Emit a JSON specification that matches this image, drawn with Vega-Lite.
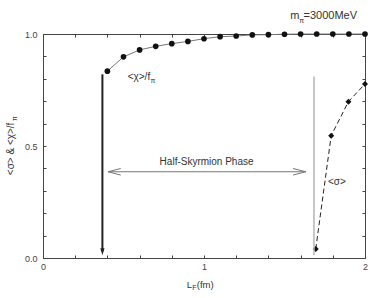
{
  "$schema": "https://vega.github.io/schema/vega-lite/v6.json",
  "width": 322,
  "height": 224,
  "autosize": {"type": "none"},
  "padding": {"left": 43, "top": 34, "right": 17, "bottom": 40},
  "background": "white",
  "config": {
    "font": "Liberation Sans",
    "view": {"stroke": "#444", "strokeWidth": 1},
    "axis": {
      "domain": false,
      "grid": false,
      "tickColor": "#444",
      "tickSize": -3,
      "labelFont": "Liberation Sans",
      "labelFontSize": 9,
      "labelColor": "#444",
      "labelFlush": false,
      "labelOverlap": false,
      "title": null
    },
    "text": {"font": "Liberation Sans", "color": "#333"}
  },
  "datasets": {
    "chi": [
      {"x": 0.4, "y": 0.834}, {"x": 0.5, "y": 0.898}, {"x": 0.6, "y": 0.929},
      {"x": 0.7, "y": 0.945}, {"x": 0.8, "y": 0.957}, {"x": 0.9, "y": 0.967},
      {"x": 1.0, "y": 0.979}, {"x": 1.1, "y": 0.988}, {"x": 1.2, "y": 0.991},
      {"x": 1.3, "y": 0.996}, {"x": 1.4, "y": 0.997}, {"x": 1.5, "y": 0.999},
      {"x": 1.6, "y": 1.0}, {"x": 1.7, "y": 1.0}, {"x": 1.8, "y": 1.0},
      {"x": 1.9, "y": 1.0}, {"x": 2.0, "y": 1.0}
    ],
    "sigma": [
      {"x": 1.694, "y": 0.04}, {"x": 1.79, "y": 0.546},
      {"x": 1.897, "y": 0.698}, {"x": 2.0, "y": 0.777}
    ]
  },
  "layer": [
    {
      "data": {"name": "chi"},
      "mark": {"type": "line", "color": "#777", "strokeWidth": 1},
      "encoding": {
        "x": {"field": "x", "type": "quantitative",
              "scale": {"domain": [0, 2], "nice": false, "zero": false},
              "axis": {"orient": "bottom", "values": [0, 0.2, 0.4, 0.6, 0.8, 1, 1.2, 1.4, 1.6, 1.8, 2],
                       "labelExpr": "abs(datum.value - round(datum.value)) < 1e-6 ? format(datum.value, 'd') : ''",
                       "labelPadding": 7}},
        "y": {"field": "y", "type": "quantitative",
              "scale": {"domain": [0, 1], "nice": false, "zero": false},
              "axis": {"orient": "left", "values": [0, 0.1, 0.2, 0.3, 0.4, 0.5, 0.6, 0.7, 0.8, 0.9, 1],
                       "labelExpr": "abs(datum.value * 2 - round(datum.value * 2)) < 1e-6 ? format(datum.value, '.1f') : ''",
                       "labelPadding": 9}}
      }
    },
    {
      "data": {"name": "chi"},
      "mark": {"type": "point", "shape": "circle", "filled": true, "color": "#111", "size": 32, "opacity": 1},
      "encoding": {
        "x": {"field": "x", "type": "quantitative",
              "axis": {"orient": "top", "values": [0, 0.2, 0.4, 0.6, 0.8, 1, 1.2, 1.4, 1.6, 1.8, 2], "labels": false}},
        "y": {"field": "y", "type": "quantitative",
              "axis": {"orient": "right", "values": [0, 0.1, 0.2, 0.3, 0.4, 0.5, 0.6, 0.7, 0.8, 0.9, 1], "labels": false}}
      }
    },
    {
      "data": {"name": "sigma"},
      "mark": {"type": "line", "color": "#222", "strokeWidth": 1, "strokeDash": [5, 3]},
      "encoding": {
        "x": {"field": "x", "type": "quantitative", "axis": null},
        "y": {"field": "y", "type": "quantitative", "axis": null}
      }
    },
    {
      "data": {"name": "sigma"},
      "mark": {"type": "point", "shape": "diamond", "filled": true, "color": "#111", "size": 36, "opacity": 1},
      "encoding": {
        "x": {"field": "x", "type": "quantitative", "axis": null},
        "y": {"field": "y", "type": "quantitative", "axis": null}
      }
    },
    {
      "data": {"values": [
        {"x": 0.369, "y": 0.82, "y2": 0.03, "c": "black"},
        {"x": 1.683, "y": 0.81, "y2": 0.012, "c": "gray"}
      ]},
      "mark": {"type": "rule"},
      "encoding": {
        "x": {"field": "x", "type": "quantitative", "axis": null},
        "y": {"field": "y", "type": "quantitative", "axis": null},
        "y2": {"field": "y2"},
        "color": {"field": "c", "type": "nominal", "scale": {"domain": ["black", "gray"], "range": ["#222", "#b5b5b5"]}, "legend": null},
        "strokeWidth": {"field": "c", "type": "nominal", "scale": {"domain": ["black", "gray"], "range": [2, 1.5]}, "legend": null}
      }
    },
    {
      "data": {"values": [{"x": 0.369, "y": 0.012}]},
      "mark": {"type": "point", "shape": "M0,0L-0.6,-2L0.6,-2Z", "filled": true, "color": "#222", "size": 49, "opacity": 1},
      "encoding": {
        "x": {"field": "x", "type": "quantitative", "axis": null},
        "y": {"field": "y", "type": "quantitative", "axis": null}
      }
    },
    {
      "data": {"values": [{"x1": 0.404, "x2": 1.632, "y": 0.385}]},
      "mark": {"type": "rule", "color": "#777", "strokeWidth": 1},
      "encoding": {
        "x": {"field": "x1", "type": "quantitative", "axis": null},
        "x2": {"field": "x2"},
        "y": {"field": "y", "type": "quantitative", "axis": null}
      }
    },
    {
      "data": {"values": [{"x": 0.404, "y": 0.385}]},
      "mark": {"type": "point", "shape": "M0,0L2,-0.52M0,0L2,0.52", "filled": false, "color": "#777", "strokeWidth": 1, "size": 160, "opacity": 1},
      "encoding": {
        "x": {"field": "x", "type": "quantitative", "axis": null},
        "y": {"field": "y", "type": "quantitative", "axis": null}
      }
    },
    {
      "data": {"values": [{"x": 1.632, "y": 0.385}]},
      "mark": {"type": "point", "shape": "M0,0L-2,-0.52M0,0L-2,0.52", "filled": false, "color": "#777", "strokeWidth": 1, "size": 160, "opacity": 1},
      "encoding": {
        "x": {"field": "x", "type": "quantitative", "axis": null},
        "y": {"field": "y", "type": "quantitative", "axis": null}
      }
    },
    {
      "data": {"values": [
        {"x": 1.016, "y": 0.43, "t": "Half-Skyrmion Phase"},
        {"x": 0.526, "y": 0.81, "t": "<χ>/f", "a": "left"}
      ]},
      "mark": {"type": "text", "fontSize": 10, "align": "center", "baseline": "middle"},
      "encoding": {
        "x": {"field": "x", "type": "quantitative", "axis": null},
        "y": {"field": "y", "type": "quantitative", "axis": null},
        "text": {"field": "t"}
      },
      "transform": [{"filter": "datum.t == 'Half-Skyrmion Phase'"}]
    },
    {
      "data": {"values": [
        {"x": 0.526, "y": 0.81, "t": "<χ>/f"},
        {"x": 1.77, "y": 0.34, "t": "<σ>"}
      ]},
      "mark": {"type": "text", "fontSize": 10, "align": "left", "baseline": "middle"},
      "encoding": {
        "x": {"field": "x", "type": "quantitative", "axis": null},
        "y": {"field": "y", "type": "quantitative", "axis": null},
        "text": {"field": "t"}
      }
    },
    {
      "data": {"values": [
        {"x": 1.535, "y": 1.08, "t": "m"},
        {"x": 1.618, "y": 1.08, "t": "=3000MeV"}
      ]},
      "mark": {"type": "text", "fontSize": 11, "align": "left", "baseline": "middle"},
      "encoding": {
        "x": {"field": "x", "type": "quantitative", "axis": null},
        "y": {"field": "y", "type": "quantitative", "axis": null},
        "text": {"field": "t"}
      }
    },
    {
      "data": {"values": [
        {"x": 0.893, "y": -0.12, "t": "L"},
        {"x": 0.955, "y": -0.12, "t": "(fm)"}
      ]},
      "mark": {"type": "text", "fontSize": 9.5, "align": "left", "baseline": "middle"},
      "encoding": {
        "x": {"field": "x", "type": "quantitative", "axis": null},
        "y": {"field": "y", "type": "quantitative", "axis": null},
        "text": {"field": "t"}
      }
    },
    {
      "data": {"values": [
        {"x": 0.668, "y": 0.79, "t": "π"},
        {"x": 1.592, "y": 1.058, "t": "π"},
        {"x": 0.927, "y": -0.136, "t": "F"}
      ]},
      "mark": {"type": "text", "fontSize": 7, "align": "left", "baseline": "middle"},
      "encoding": {
        "x": {"field": "x", "type": "quantitative", "axis": null},
        "y": {"field": "y", "type": "quantitative", "axis": null},
        "text": {"field": "t"}
      }
    },
    {
      "data": {"values": [
        {"x": -0.2, "y": 0.487, "t": "<σ> & <χ>/f"}
      ]},
      "mark": {"type": "text", "fontSize": 10, "align": "center", "baseline": "middle", "angle": 270},
      "encoding": {
        "x": {"field": "x", "type": "quantitative", "axis": null},
        "y": {"field": "y", "type": "quantitative", "axis": null},
        "text": {"field": "t"}
      }
    },
    {
      "data": {"values": [
        {"x": -0.172, "y": 0.622, "t": "π"}
      ]},
      "mark": {"type": "text", "fontSize": 7, "align": "center", "baseline": "middle", "angle": 270},
      "encoding": {
        "x": {"field": "x", "type": "quantitative", "axis": null},
        "y": {"field": "y", "type": "quantitative", "axis": null},
        "text": {"field": "t"}
      }
    }
  ],
  "resolve": {"axis": {"x": "independent", "y": "independent"}}
}
